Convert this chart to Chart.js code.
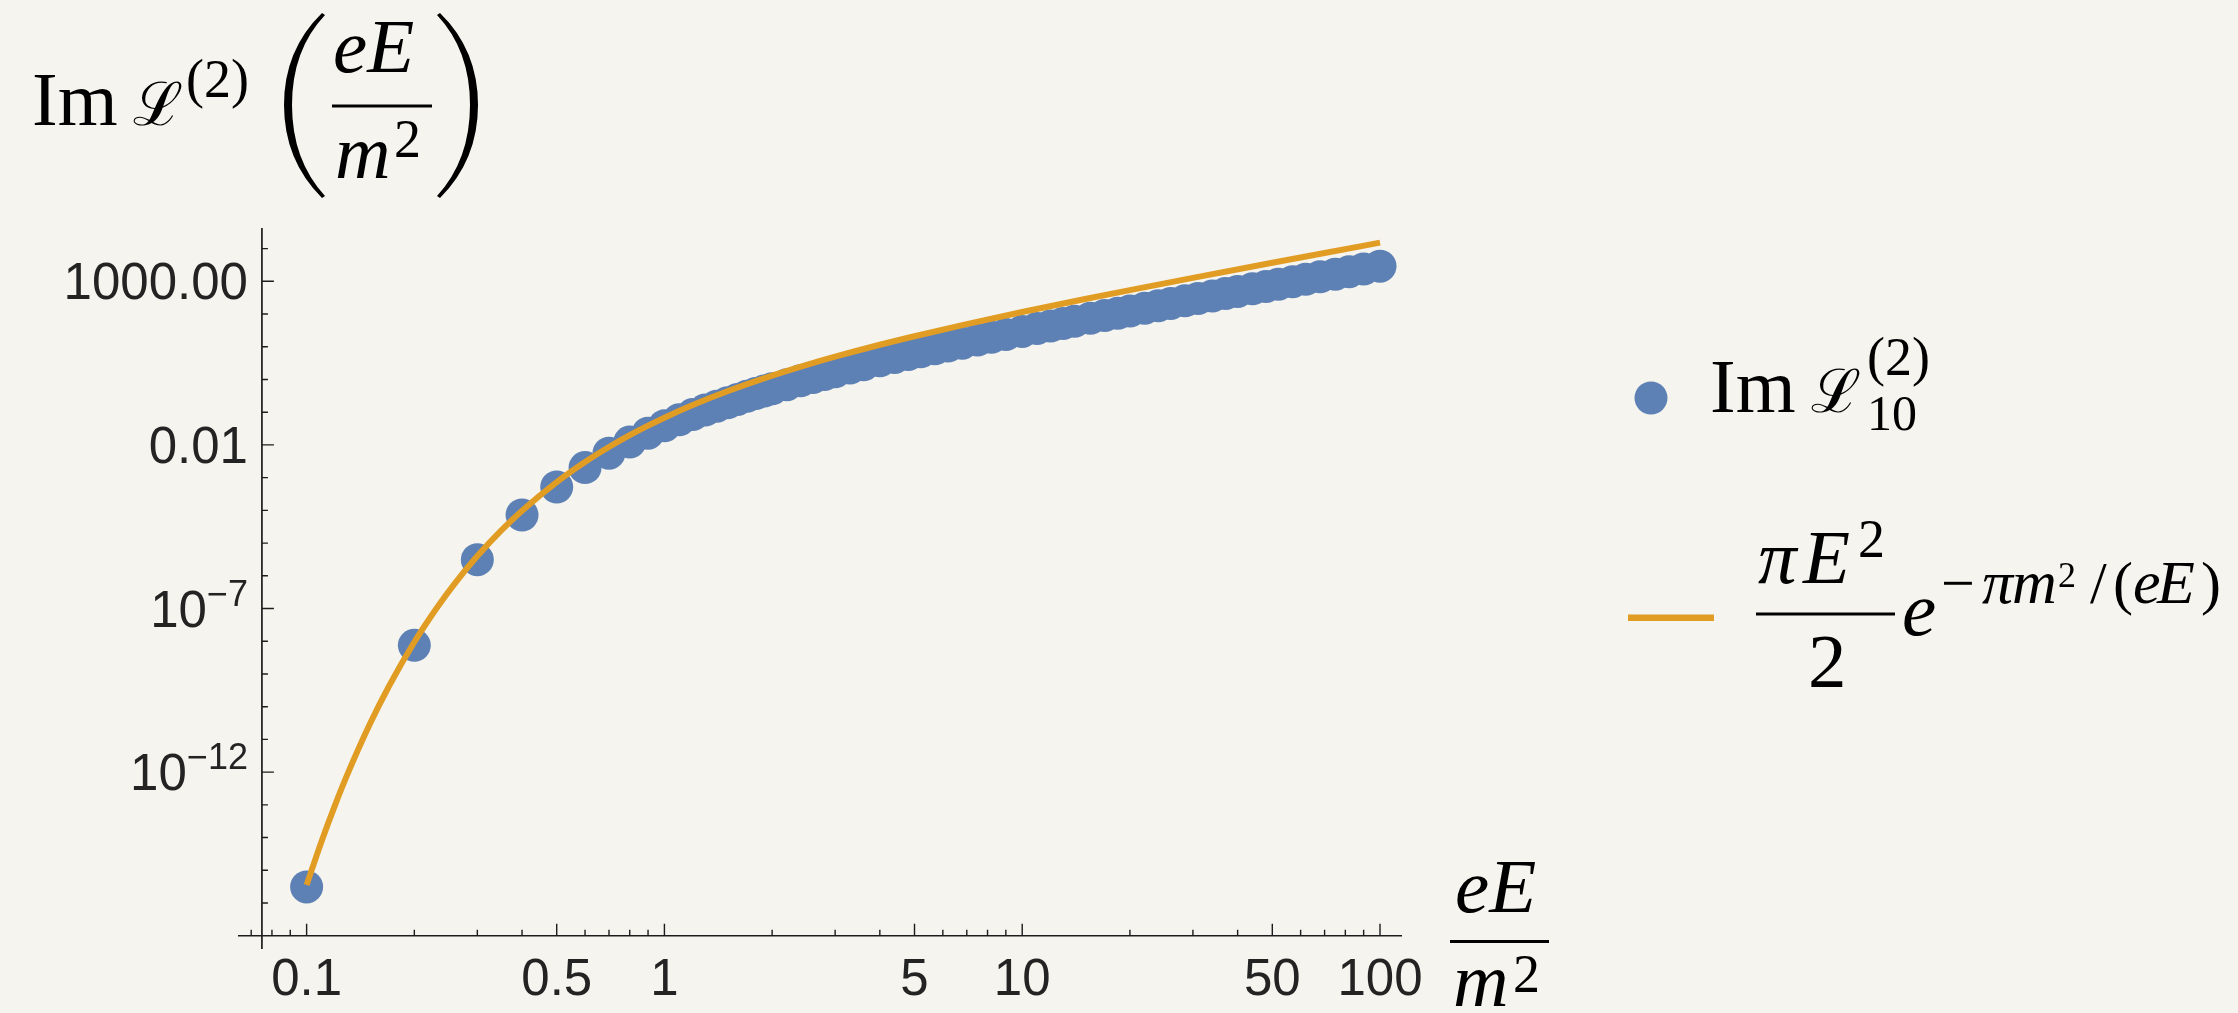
<!DOCTYPE html>
<html>
<head>
<meta charset="utf-8">
<script src="https://cdn.jsdelivr.net/npm/chart.js@4.4.1/dist/chart.umd.min.js"></script>
<style>
  html, body { margin: 0; padding: 0; background: #f5f4ee; }
  #wrap { position: relative; width: 2238px; height: 1013px; overflow: hidden; }
  #myChart { position: absolute; left: 0; top: 0; }
  #math { position: absolute; left: 0; top: 0; }
</style>
</head>
<body>
<div id="wrap">
  <canvas id="myChart" width="2238" height="1013"></canvas>
  <svg id="math" width="2238" height="1013" xmlns="http://www.w3.org/2000/svg">
    <g font-family="Liberation Serif, serif" fill="#000">
      <!-- y axis title -->
      <text x="32" y="125" font-size="77">Im</text>
      <text x="133" y="125" font-size="60" font-family="DejaVu Serif">ℒ</text>
      <text x="186" y="97" font-size="54">(2)</text>
      <path d="M322 13 Q284 50 284 105 Q284 160 322 198 L325 196 Q292 160 292 105 Q292 50 325 15 Z"/>
      <text x="333" y="72" font-size="77" font-style="italic">eE</text>
      <rect x="332" y="104.5" width="100" height="3"/>
      <text x="335" y="178" font-size="77" font-style="italic">m</text>
      <text x="394" y="157" font-size="54">2</text>
      <path d="M440 13 Q478 50 478 105 Q478 160 440 198 L437 196 Q470 160 470 105 Q470 50 437 15 Z"/>

      <!-- x axis title -->
      <text x="1455" y="912" font-size="77" font-style="italic">eE</text>
      <rect x="1450" y="940" width="99" height="3"/>
      <text x="1453" y="1006" font-size="77" font-style="italic">m</text>
      <text x="1513" y="992" font-size="54">2</text>

      <!-- legend -->
      <circle cx="1651" cy="398" r="16.5" fill="#5e81b5"/>
      <text x="1710" y="412" font-size="77">Im</text>
      <text x="1811" y="412" font-size="60" font-family="DejaVu Serif">ℒ</text>
      <text x="1867" y="375" font-size="54">(2)</text>
      <text x="1867" y="430" font-size="50">10</text>

      <rect x="1628" y="614.5" width="86" height="6.5" fill="#e19c24"/>
      <text x="1758" y="583" font-size="77" font-style="italic">π</text>
      <text x="1803" y="583" font-size="77" font-style="italic">E</text>
      <text x="1858" y="557" font-size="54">2</text>
      <rect x="1756" y="612.5" width="139" height="3"/>
      <text x="1808" y="687" font-size="77">2</text>
      <text x="1902" y="635" font-size="77" font-style="italic">e</text>
      <text x="1941" y="603" font-size="60">−</text>
      <text x="1982" y="603" font-size="62" font-style="italic">π</text>
      <text x="2012" y="603" font-size="62" font-style="italic">m</text>
      <text x="2058" y="587" font-size="36">2</text>
      <text x="2090" y="603" font-size="60">/</text>
      <text x="2113" y="603" font-size="60">(</text>
      <text x="2133" y="603" font-size="62" font-style="italic">e</text>
      <text x="2157" y="603" font-size="62" font-style="italic">E</text>
      <text x="2201" y="603" font-size="60">)</text>
    </g>
  </svg>
</div>
<script>
// dots: field strength eE/m^2 and Im L^(2)_10
const fieldPts = [0.1, 0.2, 0.3, 0.4, 0.5, 0.6, 0.7, 0.8, 0.9, 1.0,
  1.1, 1.2, 1.3, 1.4, 1.5, 1.6, 1.7, 1.8, 1.9, 2.0,
  2.2, 2.4, 2.6, 2.8, 3.0, 3.3, 3.6, 4.0, 4.4, 4.8, 5.2, 5.7, 6.2, 6.8, 7.5, 8.2, 9.0,
  10, 11, 12, 13, 14, 15.5, 17, 18.5, 20, 22, 24, 26, 28.5, 31, 34, 37, 40,
  44, 48, 52, 57, 62, 68, 75, 82, 90, 100];
const imL10 = [3.11e-16, 7.52e-9, 3.11e-6, 7.23e-5, 5.19e-4, 2.03e-3, 5.59e-3, 1.22e-2, 2.28e-2, 3.82e-2,
  5.87e-2, 8.46e-2, 0.116, 0.153, 0.194, 0.246, 0.305, 0.370, 0.442, 0.520,
  0.693, 0.908, 1.15, 1.42, 1.72, 2.24, 2.82, 3.71, 4.71, 5.81, 7.01, 8.68, 10.5, 12.9, 16.0, 19.4, 23.6,
  29.5, 35.9, 43.2, 51.2, 59.7, 73.9, 89.5, 106, 124, 151, 180, 211, 253, 298, 358, 422, 491,
  592, 700, 816, 975, 1150, 1370, 1650, 1970, 2360, 2900];

// orange curve  pi E^2/2 exp(-pi m^2/(eE))
const curveE = [0.1, 0.11, 0.12, 0.13, 0.15, 0.17, 0.2, 0.23, 0.26, 0.3, 0.35, 0.4, 0.5, 0.6, 0.7, 0.8, 0.9,
  1, 1.2, 1.5, 2, 2.5, 3, 4, 5, 7, 10, 15, 20, 30, 50, 70, 100];
const curveIm = [3.57e-16, 7.51e-15, 9.65e-14, 8.49e-13, 2.84e-11, 4.28e-10, 9.47e-9, 9.72e-8, 6.00e-7, 4.00e-6,
  2.43e-5, 9.76e-5, 7.33e-4, 3.01e-3, 8.65e-3, 1.98e-2, 3.88e-2,
  6.79e-2, 0.165, 0.435, 1.31, 2.80, 4.96, 11.5, 21.0, 49.1, 115, 287, 537, 1270, 3690, 7360, 15200];

// ticks
const xMajor = [0.1, 0.5, 1, 5, 10, 50, 100];
const xMajorLabels = ['0.1', '0.5', '1', '5', '10', '50', '100'];
const xMinor = [0.07, 0.08, 0.09, 0.2, 0.3, 0.4, 0.6, 0.7, 0.8, 0.9, 2, 3, 4, 6, 7, 8, 9,
  20, 30, 40, 60, 70, 80, 90];
const yMajor = [1e3, 1e-2, 1e-7, 1e-12];
const yMajorLabels = [['1000.00', ''], ['0.01', ''], ['10', '−7'], ['10', '−12']];
const yMinor = [1e4, 1e2, 1e1, 1, 1e-1, 1e-3, 1e-4, 1e-5, 1e-6, 1e-8, 1e-9, 1e-10, 1e-11,
  1e-13, 1e-14, 1e-15, 1e-16];

// mathematica style axes crossing at (0.075, 1e-17)
const mmaAxes = {
  id: 'mmaAxes',
  beforeDatasetsDraw(chart) {
    const { ctx, chartArea } = chart;
    const x = chart.scales.x, y = chart.scales.y;
    const x0 = x.getPixelForValue(0.075);
    const y0 = y.getPixelForValue(1e-17);
    ctx.save();
    ctx.strokeStyle = '#1c1c1c';
    ctx.lineWidth = 1.7;
    ctx.beginPath();
    ctx.moveTo(chartArea.left, y0); ctx.lineTo(chartArea.right, y0);
    ctx.moveTo(x0, chartArea.top); ctx.lineTo(x0, chartArea.bottom);
    ctx.stroke();

    ctx.lineWidth = 1.4;
    ctx.beginPath();
    xMajor.forEach(v => { const p = x.getPixelForValue(v); ctx.moveTo(p, y0); ctx.lineTo(p, y0 - 12); });
    xMinor.forEach(v => { const p = x.getPixelForValue(v); ctx.moveTo(p, y0); ctx.lineTo(p, y0 - 6); });
    yMajor.forEach(v => { const p = y.getPixelForValue(v); ctx.moveTo(x0, p); ctx.lineTo(x0 + 12, p); });
    yMinor.forEach(v => { const p = y.getPixelForValue(v); ctx.moveTo(x0, p); ctx.lineTo(x0 + 6, p); });
    ctx.stroke();

    ctx.fillStyle = '#232323';
    ctx.font = '51px "Liberation Sans", Arial, sans-serif';
    ctx.textBaseline = 'alphabetic';
    ctx.textAlign = 'center';
    xMajor.forEach((v, i) => ctx.fillText(xMajorLabels[i], x.getPixelForValue(v), y0 + 59));

    const right = x0 - 14;
    ctx.textAlign = 'right';
    yMajor.forEach((v, i) => {
      const p = y.getPixelForValue(v);
      const [base, sup] = yMajorLabels[i];
      let supW = 0;
      if (sup) {
        ctx.font = '36px "Liberation Sans", Arial, sans-serif';
        supW = ctx.measureText(sup).width;
        ctx.fillText(sup, right, p - 3);
      }
      ctx.font = '51px "Liberation Sans", Arial, sans-serif';
      ctx.fillText(base, right - supW, p + 18);
    });
    ctx.restore();
  }
};

new Chart(document.getElementById('myChart'), {
  type: 'scatter',
  data: {
    datasets: [
      {
        label: 'Im L10',
        data: fieldPts.map((e, i) => ({ x: e, y: imL10[i] })),
        backgroundColor: '#5e81b5',
        borderWidth: 0,
        pointRadius: 16.5,
        pointHoverRadius: 16.5,
        clip: false,
        order: 2
      },
      {
        type: 'line',
        label: 'pi E^2/2 exp(-pi/E)',
        data: curveE.map((e, i) => ({ x: e, y: curveIm[i] })),
        borderColor: '#e19c24',
        borderWidth: 6,
        borderCapStyle: 'butt',
        pointRadius: 0,
        fill: false,
        cubicInterpolationMode: 'monotone',
        clip: false,
        order: 1
      }
    ]
  },
  options: {
    responsive: false,
    animation: false,
    devicePixelRatio: 1,
    layout: { padding: { left: 238, right: 836, top: 228, bottom: 64 } },
    plugins: { legend: { display: false }, tooltip: { enabled: false } },
    scales: {
      x: { type: 'logarithmic', min: 0.0643, max: 115.2, display: false },
      y: { type: 'logarithmic', min: 3.93e-18, max: 42600, display: false }
    }
  },
  plugins: [mmaAxes]
});
</script>
</body>
</html>
